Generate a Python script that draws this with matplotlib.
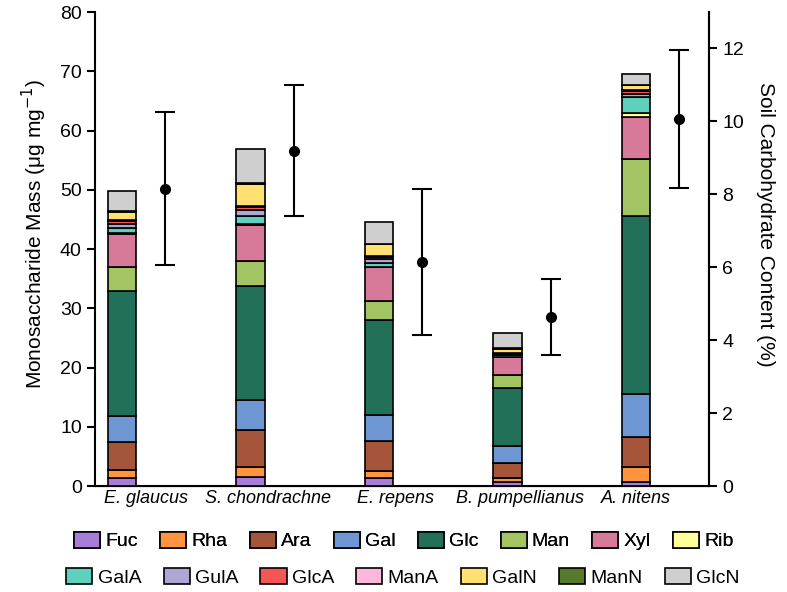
import numpy as np
import matplotlib
matplotlib.use("Agg")
import matplotlib.pyplot as plt
from matplotlib.patches import Patch

plt.rcParams['font.family'] = ['Liberation Sans', 'DejaVu Sans']

species = ["E. glaucus", "S. chondrachne", "E. repens", "B. pumpellianus", "A. nitens"]
sugars = ["Fuc", "Rha", "Ara", "Gal", "Glc", "Man", "Xyl", "Rib",
          "GalA", "GulA", "GlcA", "ManA", "GalN", "ManN", "GlcN"]

# monosaccharide mass (ug/mg), one list per sugar, one value per species
fuc = [1.3, 1.6, 1.35, 0.75, 0.75]
rha = [1.4, 1.6, 1.25, 0.55, 2.5]
ara = [4.8, 6.2, 5.05, 2.65, 5.0]
gal = [4.4, 5.2, 4.4, 2.85, 7.2]
glc = [21.0, 19.2, 15.9, 9.7, 30.1]
man = [4.0, 4.2, 3.2, 2.3, 9.6]
xyl = [5.7, 6.1, 5.75, 3.0, 7.2]
rib = [0.1, 0.1, 0.1, 0.05, 0.6]
gala = [0.9, 1.4, 0.7, 0.2, 2.7]
gula = [0.6, 1.0, 0.6, 0.2, 0.5]
glca = [0.5, 0.5, 0.4, 0.15, 0.5]
mana = [0.2, 0.2, 0.2, 0.1, 0.2]
galn = [1.4, 3.7, 1.9, 0.7, 0.8]
mann = [0.1, 0.1, 0.1, 0.05, 0.1]
glcn = [3.4, 5.7, 3.7, 2.5, 1.85]
masses = [fuc, rha, ara, gal, glc, man, xyl, rib, gala, gula, glca, mana, galn, mann, glcn]

# soil carbohydrate content (%)
carb_mean = [8.15, 9.2, 6.15, 4.64, 10.06]
carb_err = [2.1, 1.8, 2.0, 1.05, 1.9]

colors = ["#a77dd8", "#ff9440", "#a5553a", "#6d96d2", "#22705a", "#a3c463", "#d77a99",
          "#ffff99", "#5fd0bc", "#b0a6d6", "#f55555", "#ffb8dc", "#ffe070", "#567a2a",
          "#cfcfcf"]

fig = plt.figure(figsize=(7.87, 5.92), dpi=100)
ax = fig.add_axes([0.1207, 0.179, 0.7802, 0.8007])

x = np.arange(len(species))
bottom = np.zeros(len(species))
for name, vals, c in zip(sugars, masses, colors):
    ax.bar(x, vals, 0.225, bottom=bottom, color=c, edgecolor="black", linewidth=1.2,
           label=name, zorder=3)
    bottom += np.array(vals)

ax.set_xlim(-0.21, 4.568)
ax.set_ylim(0, 80)
ax.set_yticks(range(0, 81, 10))
ax.set_ylabel("Monosaccharide Mass (\u03bcg mg$^{-1}$)", fontsize=15, labelpad=8)
ax.yaxis.label.set_y(0.532)
ax.tick_params(axis="y", labelsize=14, length=6, width=1.5, direction="out")

label_shift = [0.187, 0.136, 0.132, 0.097, 0.0]
ax.set_xticks(x + np.array(label_shift))
ax.set_xticklabels(species, style="italic", fontsize=13)
ax.tick_params(axis="x", length=0, pad=3)

for s in ["left", "bottom", "right"]:
    ax.spines[s].set_linewidth(1.5)
ax.spines["top"].set_visible(False)

ax2 = ax.twinx()
ax2.errorbar(x + 0.335, carb_mean, yerr=carb_err, fmt="o", color="black", markersize=7,
             capsize=7, elinewidth=1.5, capthick=1.5)
ax2.set_ylim(0, 13)
ax2.set_yticks(range(0, 13, 2))
ax2.set_ylabel("Soil Carbohydrate Content (%)", fontsize=15, rotation=270, labelpad=22)
ax2.yaxis.label.set_y(0.553)
ax2.tick_params(axis="y", labelsize=14, length=6, width=1.5, direction="out")
ax2.spines["top"].set_visible(False)
ax2.spines["right"].set_linewidth(1.5)
ax2.spines["left"].set_visible(False)

handles = [Patch(facecolor=c, edgecolor="black", linewidth=1.2) for c in colors]
legend_kw = dict(loc="center", frameon=False, fontsize=14, handlelength=1.34,
                 handleheight=0.88, handletextpad=0.26, columnspacing=1.15, borderpad=0)
row1 = fig.legend(handles[:8], sugars[:8], ncol=8, bbox_to_anchor=(0.513, 0.086), **legend_kw)
fig.add_artist(row1)
fig.legend(handles[8:], sugars[8:], ncol=7, bbox_to_anchor=(0.512, 0.025), **legend_kw)

fig.savefig("out.png", dpi=100)
